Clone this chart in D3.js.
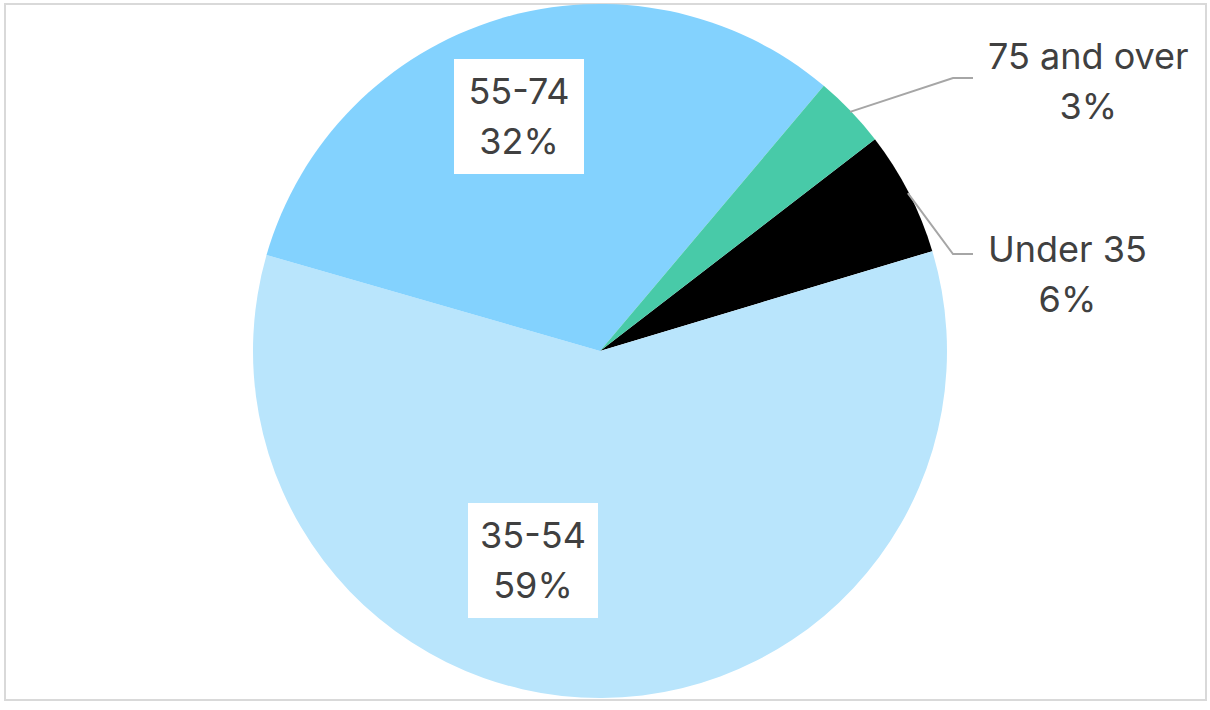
<!DOCTYPE html>
<html lang="en">
<head>
    <meta charset="UTF-8">
    <script src="https://cdnjs.cloudflare.com/ajax/libs/d3/7.8.5/d3.min.js"></script>
    <style>
        body { margin: 0; background: #fff; }
        text { font-family: Inter, "Liberation Sans", sans-serif; fill: #404040; }
    </style>
</head>
<body>
<div id="chart"></div>
<script>
    var categories = ["Under 35", "35-54", "55-74", "75 and over"];
    var shares = [5.8, 59.1, 31.7, 3.4];
    var percentLabels = ["6%", "59%", "32%", "3%"];
    var sliceColors = ["#000000", "#b9e5fc", "#83d2fe", "#48caa8"];

    var width = 1210, height = 710;
    var cx = 600, cy = 351, radius = 347;
    var startAngle = 52.4 * Math.PI / 180;

    var svg = d3.select("#chart")
        .append("svg")
        .attr("width", width)
        .attr("height", height);

    // chart frame
    svg.append("rect")
        .attr("x", 5).attr("y", 4)
        .attr("width", 1201).attr("height", 696)
        .attr("fill", "#fff")
        .attr("stroke", "#d9d9d9")
        .attr("stroke-width", 2);

    var pie = d3.pie().sort(null)
        .startAngle(startAngle)
        .endAngle(startAngle + 2 * Math.PI);
    var arcs = pie(shares);
    var arc = d3.arc().innerRadius(0).outerRadius(radius);

    var g = svg.append("g").attr("transform", "translate(" + cx + "," + cy + ")");

    g.selectAll("path")
        .data(arcs)
        .enter()
        .append("path")
        .attr("d", arc)
        .attr("fill", function (d, i) { return sliceColors[i]; });

    var fontSize = 36;
    var lineGap = 50;

    // inside labels in white boxes, offset from pie centre
    var inside = [
        {i: 1, dx: -67, dy: 209},
        {i: 2, dx: -81, dy: -235}
    ];
    inside.forEach(function (o) {
        var lg = g.append("g").attr("transform", "translate(" + o.dx + "," + o.dy + ")");
        lg.append("rect")
            .attr("x", -65).attr("y", -57)
            .attr("width", 130).attr("height", 115)
            .attr("fill", "#fff");
        lg.append("text")
            .attr("text-anchor", "middle")
            .attr("y", -12)
            .style("font-size", fontSize + "px")
            .text(categories[o.i]);
        lg.append("text")
            .attr("text-anchor", "middle")
            .attr("y", 38)
            .style("font-size", fontSize + "px")
            .text(percentLabels[o.i]);
    });

    // outside labels with leader lines
    var outside = [
        {i: 3, elbowY: 78, textX: 988, baseY: 69},
        {i: 0, elbowY: 254, textX: 988, baseY: 262}
    ];
    outside.forEach(function (o) {
        var d = arcs[o.i];
        var mid = (d.startAngle + d.endAngle) / 2;
        var r0 = radius - 1;
        var x0 = cx + r0 * Math.sin(mid), y0 = cy - r0 * Math.cos(mid);
        svg.append("polyline")
            .attr("points", [[x0, y0], [953, o.elbowY], [973, o.elbowY]].map(function (p) { return p.join(","); }).join(" "))
            .attr("fill", "none")
            .attr("stroke", "#a6a6a6")
            .attr("stroke-width", 2);
        var t1 = svg.append("text")
            .attr("x", o.textX)
            .attr("y", o.baseY)
            .style("font-size", fontSize + "px")
            .text(categories[o.i]);
        var w = t1.node().getComputedTextLength();
        svg.append("text")
            .attr("x", o.textX + w / 2)
            .attr("y", o.baseY + lineGap)
            .attr("text-anchor", "middle")
            .style("font-size", fontSize + "px")
            .text(percentLabels[o.i]);
    });
</script>
</body>
</html>
